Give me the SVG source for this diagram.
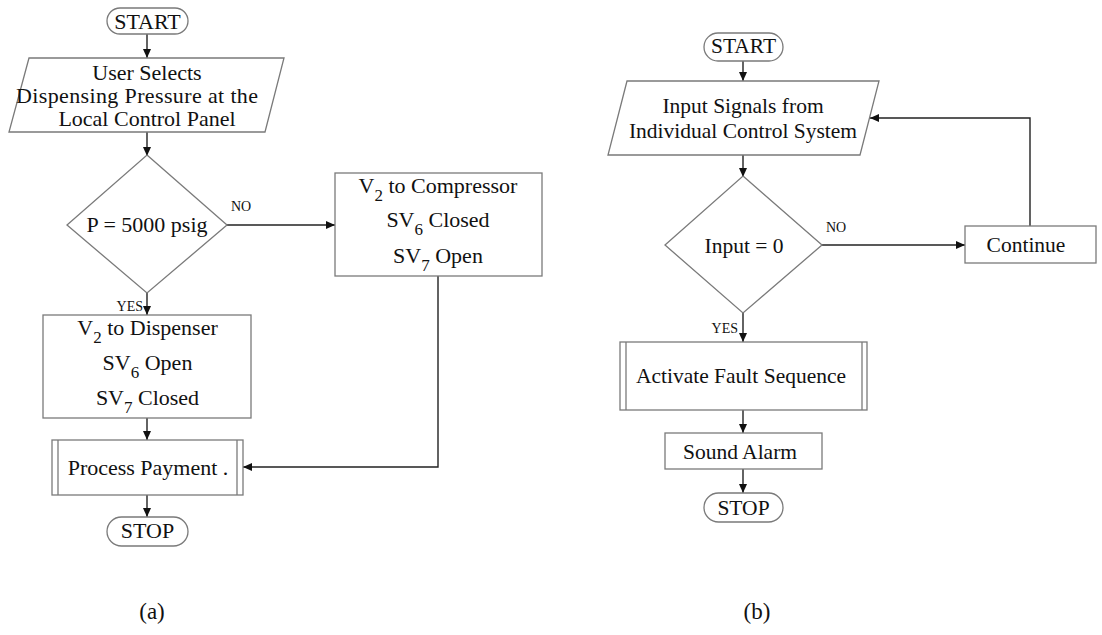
<svg xmlns="http://www.w3.org/2000/svg" width="1102" height="635" viewBox="0 0 1102 635">
<defs>
<marker id="ah" markerUnits="userSpaceOnUse" markerWidth="10" markerHeight="8" refX="9" refY="4" orient="auto">
<path d="M0,0 L9,4 L0,8 Z" fill="#111"/>
</marker>
<style>
.s{fill:#fff;stroke:#7a7a7a;stroke-width:1.3}
.c{fill:none;stroke:#222;stroke-width:1.4}
.t{font-family:"Liberation Serif","Times New Roman",serif;font-size:21.5px;fill:#111;text-anchor:middle}
.ta{font-size:22px}
.l{font-family:"Liberation Serif","Times New Roman",serif;font-size:14px;fill:#111}
.cap{font-family:"Liberation Serif","Times New Roman",serif;font-size:23px;fill:#111;text-anchor:middle}
.sub{font-size:17px}
</style>
</defs>
<rect width="1102" height="635" fill="#fff"/>

<g id="connectors">
<line class="c" x1="147" y1="34" x2="147" y2="58" marker-end="url(#ah)"/>
<line class="c" x1="147" y1="132" x2="147" y2="156" marker-end="url(#ah)"/>
<line class="c" x1="227" y1="225" x2="335" y2="225" marker-end="url(#ah)"/>
<line class="c" x1="147" y1="293" x2="147" y2="315" marker-end="url(#ah)"/>
<line class="c" x1="147" y1="418" x2="147" y2="440" marker-end="url(#ah)"/>
<polyline class="c" points="438,276 438,467 243,467" marker-end="url(#ah)"/>
<line class="c" x1="147" y1="495" x2="147" y2="517" marker-end="url(#ah)"/>

<line class="c" x1="743" y1="61" x2="743" y2="81" marker-end="url(#ah)"/>
<line class="c" x1="743" y1="155" x2="743" y2="177" marker-end="url(#ah)"/>
<line class="c" x1="822" y1="245" x2="965" y2="245" marker-end="url(#ah)"/>
<polyline class="c" points="1030,226 1030,118 870,118" marker-end="url(#ah)"/>
<line class="c" x1="743" y1="313" x2="743" y2="342" marker-end="url(#ah)"/>
<line class="c" x1="743" y1="410" x2="743" y2="433" marker-end="url(#ah)"/>
<line class="c" x1="743" y1="469" x2="743" y2="493" marker-end="url(#ah)"/>
<text class="l" x="231" y="211">NO</text>
<text class="l" x="143" y="311" text-anchor="end">YES</text>
<text class="l" x="826" y="232">NO</text>
<text class="l" x="738" y="333" text-anchor="end">YES</text>
</g>

<g id="a-start">
<rect class="s" x="107" y="8" width="81" height="26" rx="13"/>
<text class="t ta" x="147.5" y="29">START</text>
</g>
<g id="a-input">
<polygon class="s" points="29,58 284,58 265,132 9,132"/>
<text class="t ta" x="147" y="80">User Selects</text>
<text class="t ta" x="137" y="103" textLength="242" lengthAdjust="spacing">Dispensing Pressure at the</text>
<text class="t ta" x="147" y="126">Local Control Panel</text>
</g>
<g id="a-decision">
<polygon class="s" points="147,155 227,225 147,293 67,225"/>
<text class="t ta" x="147" y="232">P = 5000 psig</text>
</g>
<g id="a-compressor">
<rect class="s" x="335" y="173" width="207" height="103"/>
<text class="t ta" x="438" y="193">V<tspan class="sub" dy="8">2</tspan><tspan dy="-8"> to Compressor</tspan></text>
<text class="t ta" x="438" y="227">SV<tspan class="sub" dy="8">6</tspan><tspan dy="-8"> Closed</tspan></text>
<text class="t ta" x="438" y="263">SV<tspan class="sub" dy="8">7</tspan><tspan dy="-8"> Open</tspan></text>
</g>
<g id="a-dispenser">
<rect class="s" x="43" y="315" width="208" height="103"/>
<text class="t ta" x="147.5" y="335">V<tspan class="sub" dy="8">2</tspan><tspan dy="-8"> to Dispenser</tspan></text>
<text class="t ta" x="147.5" y="370">SV<tspan class="sub" dy="8">6</tspan><tspan dy="-8"> Open</tspan></text>
<text class="t ta" x="147.5" y="405">SV<tspan class="sub" dy="8">7</tspan><tspan dy="-8"> Closed</tspan></text>
</g>
<g id="a-payment">
<rect class="s" x="52" y="440" width="191" height="55"/>
<line class="s" x1="58" y1="440" x2="58" y2="495"/>
<line class="s" x1="237" y1="440" x2="237" y2="495"/>
<text class="t ta" x="148" y="475">Process Payment .</text>
</g>
<g id="a-stop">
<rect class="s" x="107" y="517" width="81" height="29" rx="14.5"/>
<text class="t ta" x="147.5" y="538">STOP</text>
</g>

<g id="b-start">
<rect class="s" x="704" y="33" width="79" height="28" rx="14"/>
<text class="t" x="743.5" y="53">START</text>
</g>
<g id="b-input">
<polygon class="s" points="627,81 879,81 860,155 608,155"/>
<text class="t" x="743" y="113">Input Signals from</text>
<text class="t" x="743" y="138">Individual Control System</text>
</g>
<g id="b-decision">
<polygon class="s" points="743,176 822,245 743,313 665,245"/>
<text class="t" x="744" y="253">Input = 0</text>
</g>
<g id="b-continue">
<rect class="s" x="965" y="226" width="131" height="37"/>
<text class="t" x="1026" y="252">Continue</text>
</g>
<g id="b-fault">
<rect class="s" x="620" y="342" width="247" height="68"/>
<line class="s" x1="626" y1="342" x2="626" y2="410"/>
<line class="s" x1="862" y1="342" x2="862" y2="410"/>
<text class="t" x="741" y="383">Activate Fault Sequence</text>
</g>
<g id="b-alarm">
<rect class="s" x="665" y="433" width="157" height="36"/>
<text class="t" x="740" y="459">Sound Alarm</text>
</g>
<g id="b-stop">
<rect class="s" x="704" y="493" width="79" height="29" rx="14.5"/>
<text class="t" x="743.5" y="515">STOP</text>
</g>

<text class="cap" x="152" y="619">(a)</text>
<text class="cap" x="757" y="619">(b)</text>
</svg>
